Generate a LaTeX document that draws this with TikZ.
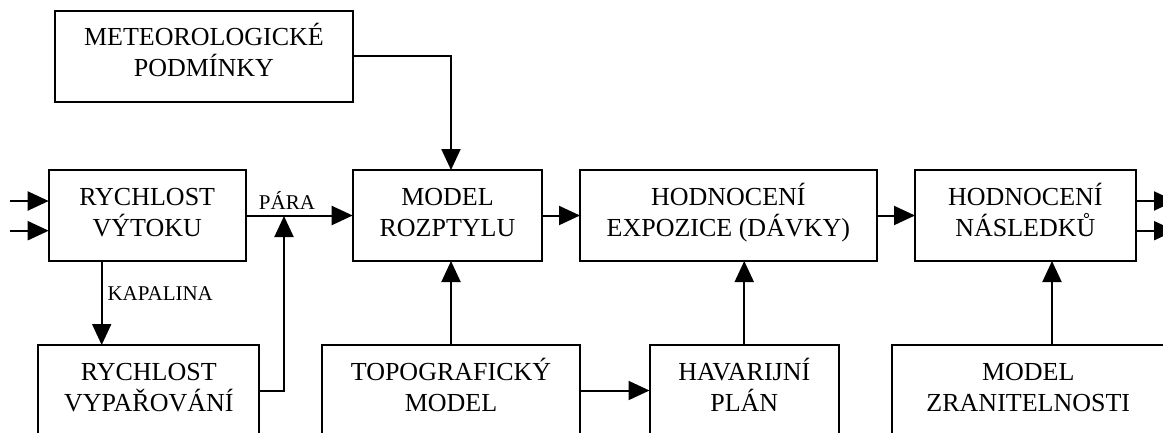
\documentclass[tikz,border=0pt]{standalone}
\usepackage{fontspec}
\setmainfont{Liberation Serif}
\usetikzlibrary{arrows.meta}
\tikzset{
  boxnode/.style={draw, line width=2pt, minimum width=#1, minimum height=91pt,
    inner sep=0pt, outer sep=0pt, align=center, text height=50pt, text depth=9pt,
    font=\fontsize{26}{31}\selectfont},
  arr/.style={line width=2pt, -{Triangle[length=21pt,width=19pt]}},
  lbl/.style={inner sep=0pt, font=\fontsize{21}{25}\selectfont}
}
\begin{document}
\begin{tikzpicture}[x=1pt,y=-1pt]
\useasboundingbox (0,0) rectangle (1163,432);
% boxes
\node[boxnode=297.7pt, minimum height=90.7pt] (meteo) at (203.9,56.35) {METEOROLOGICKÉ\\PODMÍNKY};
\node[boxnode=197pt] (vytok) at (147.2,215.5) {RYCHLOST\\VÝTOKU};
\node[boxnode=189.6pt] (model) at (447.5,215.5) {MODEL\\ROZPTYLU};
\node[boxnode=296.7pt] (expo) at (728.35,215.5) {HODNOCENÍ\\EXPOZICE (DÁVKY)};
\node[boxnode=220.7pt] (nasl) at (1025.35,215.5) {HODNOCENÍ\\NÁSLEDKŮ};
\node[boxnode=221pt] (vypar) at (148.8,390.5) {RYCHLOST\\VYPAŘOVÁNÍ};
\node[boxnode=257.2pt] (topo) at (451,390.5) {TOPOGRAFICKÝ\\MODEL};
\node[boxnode=189.5pt] (hav) at (744.25,390.5) {HAVARIJNÍ\\PLÁN};
\node[boxnode=272pt] (zran) at (1028.3,390.5) {MODEL\\ZRANITELNOSTI};
% helper coordinates
\coordinate (mtop) at (451,170);
\coordinate (in1) at (10,201);
\coordinate (in2) at (10,230.7);
\coordinate (out1) at (1175,201);
\coordinate (out2) at (1175,230.7);
\coordinate (kx) at (101.7,0);
\coordinate (pj) at (284,216);
\coordinate (zx) at (1052,0);
% connectors
\draw[arr] (meteo.east) -| (mtop);
\draw[arr] (in1) -- (in1 -| vytok.west);
\draw[arr] (in2) -- (in2 -| vytok.west);
\draw[arr] (vytok.east) -- (model.west);
\node[lbl, anchor=base] (para) at (287,209) {PÁRA};
\draw[arr] (kx |- vytok.south) -- (kx |- vypar.north);
\node[lbl, anchor=base west] (kap) at (107.3,300) {KAPALINA};
\draw[arr] (vypar.east) -| (pj);
\draw[arr] (model.east) -- (expo.west);
\draw[arr] (expo.east) -- (nasl.west);
\draw[arr] (nasl.east |- out1) -- (out1);
\draw[arr] (nasl.east |- out2) -- (out2);
\draw[arr] (topo.north) -- (topo.north |- model.south);
\draw[arr] (topo.east) -- (hav.west);
\draw[arr] (hav.north) -- (hav.north |- expo.south);
\draw[arr] (zx |- zran.north) -- (zx |- nasl.south);
\end{tikzpicture}
\end{document}
